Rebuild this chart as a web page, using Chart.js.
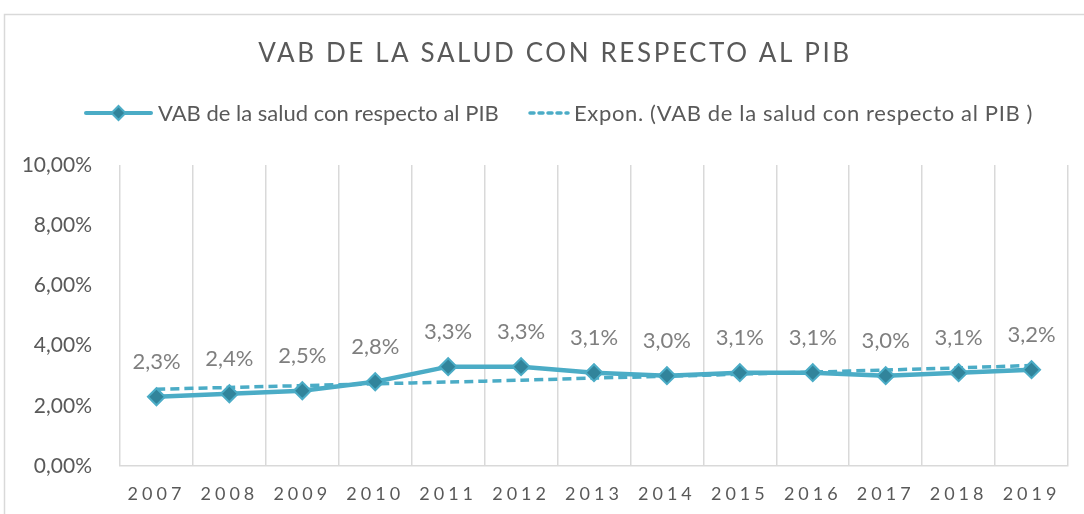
<!DOCTYPE html>
<html>
<head>
<meta charset="utf-8">
<script src="https://cdn.jsdelivr.net/npm/chart.js@4.4.1/dist/chart.umd.min.js"></script>
<style>
  html, body { margin: 0; background: #fff; }
  canvas { display: block; }
</style>
</head>
<body>
<canvas id="chart" width="1084" height="514"></canvas>
<script>
const years = ['2007', '2008', '2009', '2010', '2011', '2012', '2013', '2014', '2015', '2016', '2017', '2018', '2019'];
const vabSalud = [2.3, 2.4, 2.5, 2.8, 3.3, 3.3, 3.1, 3.0, 3.1, 3.1, 3.0, 3.1, 3.2];
const tendenciaExpon = [2.55, 2.61, 2.67, 2.73, 2.79, 2.85, 2.92, 2.98, 3.05, 3.12, 3.19, 3.26, 3.34];
const yTicks = [0, 2, 4, 6, 8, 10];

const titleText = 'VAB DE LA SALUD CON RESPECTO AL PIB';
const serieLabel = 'VAB de la salud con respecto al PIB';
const trendLabel = 'Expon. (VAB de la salud con respecto al PIB )';

const FONT = 'Lato';
const TEAL = '#4BACC6';
const TEAL_DARK = '#31849B';
const GREY_TEXT = '#595959';
const GRID = '#D9D9D9';

const pct2 = v => v.toFixed(2).replace('.', ',') + '%';
const pct1 = v => v.toFixed(1).replace('.', ',') + '%';

function drawDiamond(ctx, x, y, r) {
  ctx.beginPath();
  ctx.moveTo(x, y - r);
  ctx.lineTo(x + r, y);
  ctx.lineTo(x, y + r);
  ctx.lineTo(x - r, y);
  ctx.closePath();
  ctx.fillStyle = TEAL_DARK;
  ctx.fill();
  ctx.lineWidth = 2;
  ctx.strokeStyle = TEAL;
  ctx.stroke();
}

const decor = {
  id: 'decor',
  beforeDraw(chart) {
    const ctx = chart.ctx;
    ctx.save();
    ctx.fillStyle = '#fff';
    ctx.fillRect(0, 0, chart.width, chart.height);
    ctx.strokeStyle = GRID;
    ctx.lineWidth = 1.5;
    ctx.strokeRect(4.5, 14.5, chart.width + 20, chart.height + 20);

    // title
    ctx.fillStyle = GREY_TEXT;
    ctx.font = `26px ${FONT}`;
    ctx.letterSpacing = '2.6px';
    ctx.textAlign = 'center';
    ctx.textBaseline = 'middle';
    ctx.fillText(titleText, 555, 54);
    ctx.letterSpacing = '0px';

    // legend
    const ly = 113;
    ctx.font = `22px ${FONT}`;
    ctx.textAlign = 'left';
    ctx.lineCap = 'round';
    ctx.strokeStyle = TEAL;
    ctx.lineWidth = 4;
    ctx.beginPath();
    ctx.moveTo(86, ly);
    ctx.lineTo(151, ly);
    ctx.stroke();
    drawDiamond(ctx, 118.5, ly, 7);
    ctx.fillStyle = GREY_TEXT;
    ctx.fillText(serieLabel, 158, ly + 1);

    ctx.strokeStyle = TEAL;
    ctx.lineWidth = 3.5;
    ctx.setLineDash([4, 5]);
    ctx.beginPath();
    ctx.moveTo(530, ly);
    ctx.lineTo(568, ly);
    ctx.stroke();
    ctx.setLineDash([]);
    ctx.letterSpacing = '0.65px';
    ctx.fillText(trendLabel, 574, ly + 1);
    ctx.letterSpacing = '0px';
    ctx.restore();

    // letter-spaced year labels
    const xs = chart.scales.x;
    if (xs && !xs._spaced) {
      const orig = xs.drawLabels.bind(xs);
      xs.drawLabels = function (area) {
        chart.ctx.save();
        chart.ctx.letterSpacing = '4px';
        orig(area);
        chart.ctx.restore();
      };
      xs._spaced = true;
    }
  },
  afterDatasetsDraw(chart) {
    const ctx = chart.ctx;
    const meta = chart.getDatasetMeta(0);
    ctx.save();
    ctx.font = `22px ${FONT}`;
    ctx.fillStyle = '#7F7F7F';
    ctx.textAlign = 'center';
    ctx.textBaseline = 'middle';
    meta.data.forEach((pt, i) => {
      ctx.fillText(pct1(vabSalud[i]), pt.x, pt.y - 35);
    });
    ctx.restore();
  }
};

new Chart(document.getElementById('chart'), {
  type: 'line',
  data: {
    labels: years,
    datasets: [
      {
        label: serieLabel,
        data: vabSalud,
        borderColor: TEAL,
        borderWidth: 4.5,
        pointStyle: 'rectRot',
        pointRadius: 8.5,
        pointBackgroundColor: TEAL_DARK,
        pointBorderColor: TEAL,
        pointBorderWidth: 2,
        tension: 0,
        fill: false
      },
      {
        label: trendLabel,
        data: tendenciaExpon,
        borderColor: TEAL,
        borderWidth: 3.5,
        borderDash: [9, 5],
        pointRadius: 0,
        tension: 0.3,
        fill: false
      }
    ]
  },
  options: {
    responsive: false,
    animation: false,
    layout: { padding: { left: 0, right: 16, top: 165, bottom: 0 } },
    plugins: {
      legend: { display: false },
      title: { display: false },
      tooltip: { enabled: false }
    },
    scales: {
      x: {
        offset: true,
        grid: { offset: true, color: GRID, lineWidth: 1.5, drawTicks: false },
        border: { display: true, color: GRID, width: 1.5 },
        ticks: { color: GREY_TEXT, font: { family: FONT, size: 18 }, padding: 17, maxRotation: 0 },
        afterFit(scale) { scale.height = 48; }
      },
      y: {
        min: 0,
        max: 10,
        afterBuildTicks(scale) { scale.ticks = yTicks.map(v => ({ value: v })); },
        grid: { display: false },
        border: { display: false },
        ticks: {
          color: GREY_TEXT,
          font: { family: FONT, size: 21 },
          padding: 20,
          callback: v => pct2(v)
        },
        afterFit(scale) { scale.width = 120; }
      }
    }
  },
  plugins: [decor]
});
</script>
</body>
</html>
